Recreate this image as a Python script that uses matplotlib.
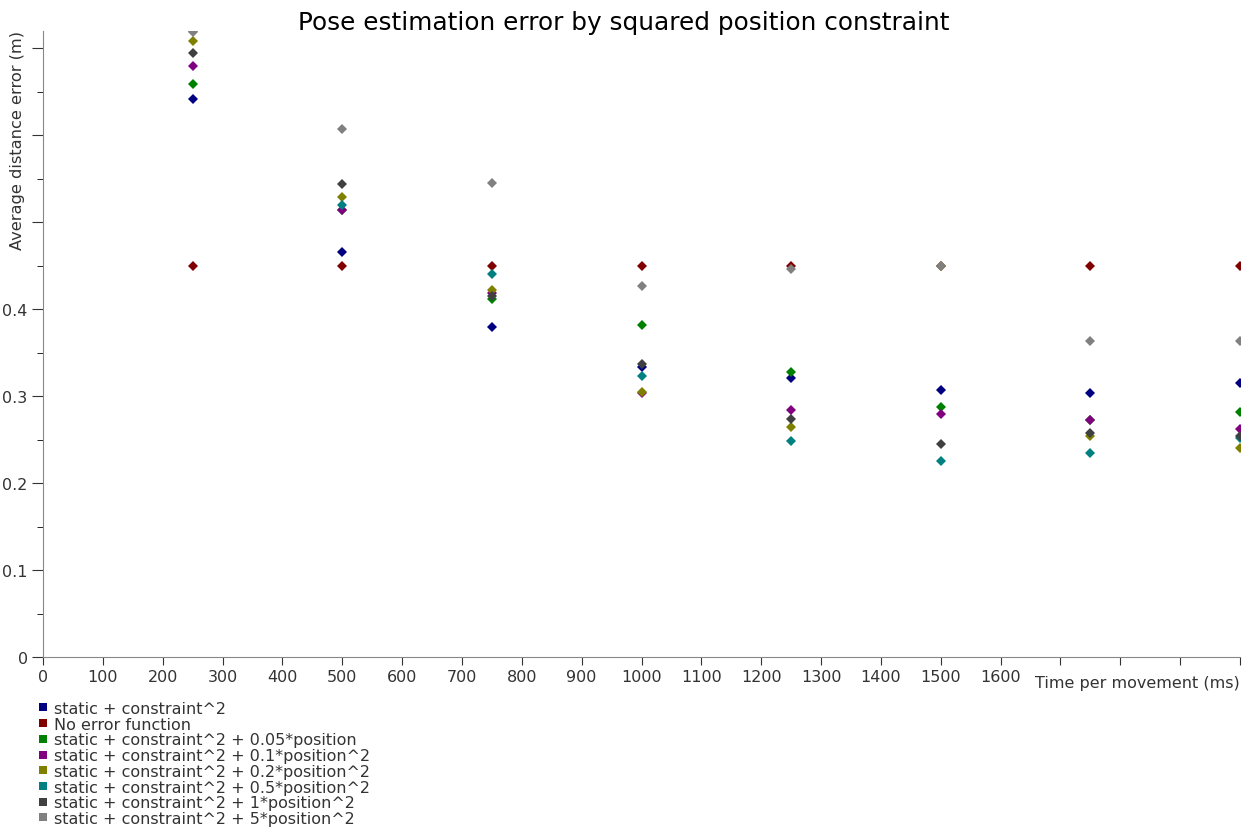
import numpy as np
import matplotlib
matplotlib.use("Agg")
import matplotlib.pyplot as plt
from matplotlib.lines import Line2D

# time per movement (ms)
times = [250, 500, 750, 1000, 1250, 1500, 1750, 2000]

# average distance error (m) per configuration
static_c2 = [0.642, 0.466, 0.379, 0.333, 0.321, 0.307, 0.304, 0.315]
no_error = [0.450, 0.450, 0.450, 0.450, 0.450, 0.450, 0.450, 0.450]
pos_005 = [0.659, 0.514, 0.412, 0.382, 0.328, 0.287, 0.273, 0.282]
pos_01 = [0.680, 0.514, 0.419, 0.304, 0.284, 0.280, 0.273, 0.262]
pos_02 = [0.709, 0.529, 0.422, 0.305, 0.264, 0.450, 0.254, 0.240]
pos_05 = [0.720, 0.520, 0.440, 0.323, 0.249, 0.226, 0.235, 0.252]
pos_1 = [0.695, 0.544, 0.415, 0.337, 0.274, 0.245, 0.258, 0.254]
pos_5 = [0.719, 0.607, 0.545, 0.427, 0.446, 0.450, 0.364, 0.364]

labels = [
    "static + constraint^2",
    "No error function",
    "static + constraint^2 + 0.05*position",
    "static + constraint^2 + 0.1*position^2",
    "static + constraint^2 + 0.2*position^2",
    "static + constraint^2 + 0.5*position^2",
    "static + constraint^2 + 1*position^2",
    "static + constraint^2 + 5*position^2",
]
series = [static_c2, no_error, pos_005, pos_01, pos_02, pos_05, pos_1, pos_5]
colors = ["#000080", "#800000", "#008000", "#800080",
          "#808000", "#008080", "#404040", "#808080"]

fig = plt.figure(figsize=(12.5, 8.29), dpi=100)
ax = fig.add_axes([43 / 1250, 1 - 658 / 829, 1197 / 1250, 626 / 829])

for vals, col in zip(series, colors):
    ax.plot(times, vals, linestyle="none", marker="D", markersize=5.2,
            color=col, markeredgewidth=0)

ax.set_xlim(0, 2000)
ax.set_ylim(0, 0.72)

xt = np.arange(0, 2001, 100)
ax.set_xticks(xt)
ax.set_xticklabels([str(v) if v <= 1600 else "" for v in xt])
yt = np.round(np.arange(0, 0.71, 0.1), 2)
ax.set_yticks(yt)
ax.set_yticklabels(["0" if v == 0 else f"{v:g}" if v <= 0.4 else "" for v in yt])
ax.set_yticks(np.arange(0.05, 0.71, 0.1), minor=True)

ax.tick_params(axis="both", labelsize=11.5, labelcolor="#333333", color="#333333")
ax.tick_params(axis="x", length=6, pad=3)
ax.tick_params(axis="y", which="major", length=8, pad=3)
ax.tick_params(axis="y", which="minor", length=4)

for s in ["top", "right"]:
    ax.spines[s].set_visible(False)
for s in ["left", "bottom"]:
    ax.spines[s].set_color("#888888")

ax.set_xlabel("Time per movement (ms)", fontsize=11.5, color="#333333", loc="right")
ax.xaxis.set_label_coords(1.0, -0.028)
ax.xaxis.label.set_verticalalignment("top")

fig.text(18 / 1250, 1 - 140 / 829, "Average distance error (m)", rotation=90,
         ha="center", va="center", fontsize=11.7, color="#333333")
fig.text(0.499, 1 - 23 / 829, "Pose estimation error by squared position constraint",
         ha="center", va="center", fontsize=17.8, color="black")

handles = [Line2D([], [], linestyle="none", marker="s", markersize=5.5,
                  color=c, markeredgewidth=0) for c in colors]
fig.legend(handles, labels, loc="upper left", bbox_to_anchor=(30 / 1250, 1 - 694 / 829),
           frameon=False, fontsize=11.5, labelspacing=0.045, handlelength=0.6,
           handletextpad=0.4, borderpad=0, labelcolor="#333333")

fig.savefig("out.png", dpi=100)
